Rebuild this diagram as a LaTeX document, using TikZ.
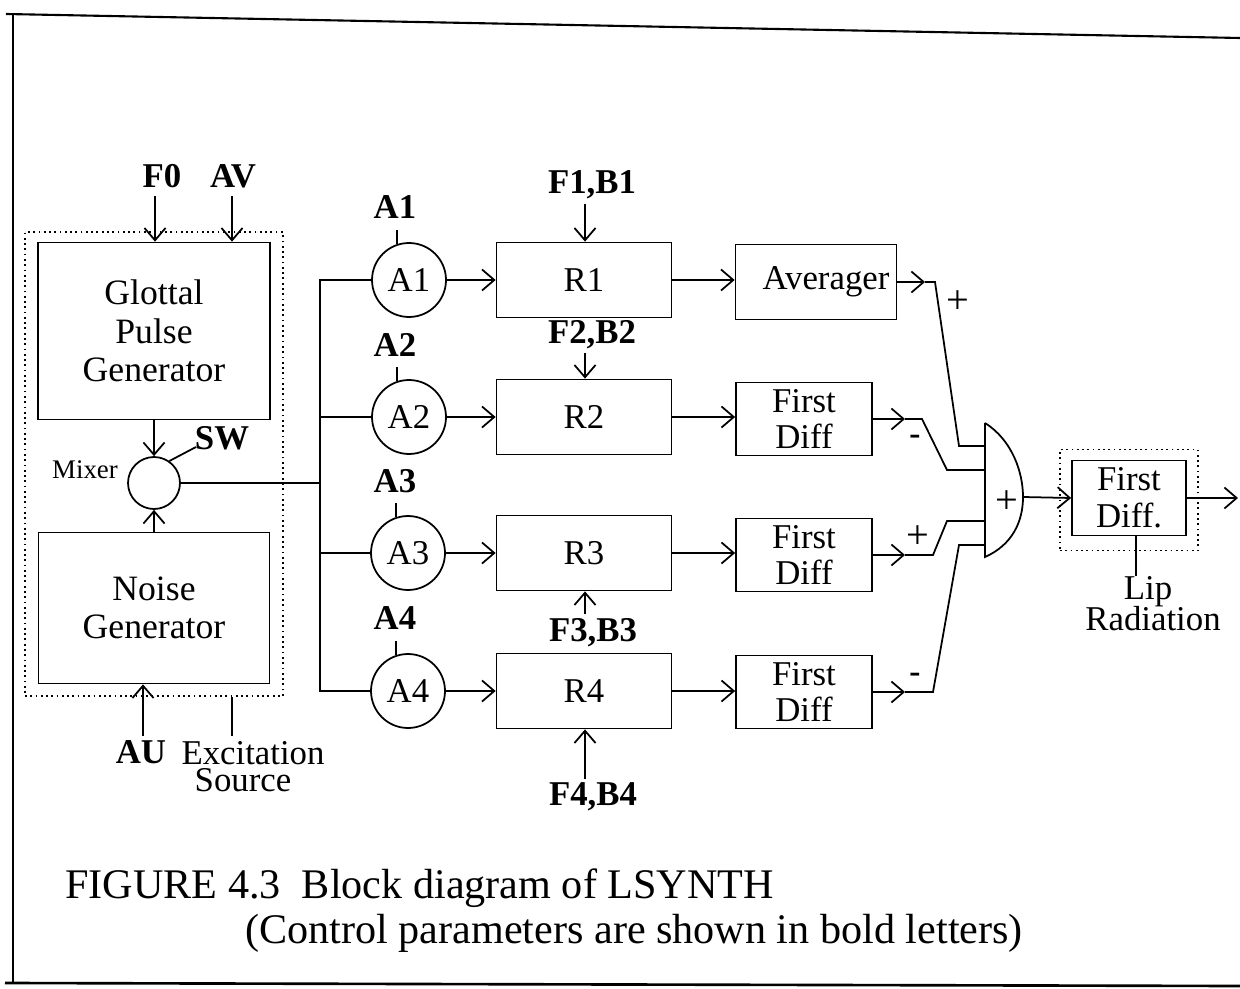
\documentclass[tikz,border=0pt]{standalone}
\usepackage{fontspec}
\setmainfont{Liberation Serif}
\usetikzlibrary{arrows.meta,calc}
\begin{document}
\begin{tikzpicture}[x=0.02cm,y=-0.02cm,
  every node/.style={font=\fontsize{19.8}{21}\selectfont, inner sep=0pt},
  blk/.style={draw, line width=1pt, rectangle, align=center},
  circ/.style={draw, line width=1pt, circle, minimum size=1.48cm},
  lbl/.style={font=\fontsize{19.8}{21}\selectfont\bfseries},
  sgn/.style={font=\fontsize{23}{23}\selectfont},
  msgn/.style={font=\fontsize{19}{19}\selectfont\bfseries},
  ln/.style={line width=1pt},
  arr/.style={line width=1pt, -{Straight Barb[length=7pt,width=12pt,line width=1pt]}},
  dotbox/.style={draw, dotted, line width=1pt},
  capt/.style={font=\fontsize{24}{26}\selectfont, anchor=base west}
]
\useasboundingbox (0,0) rectangle (1240,989);
% frame
\draw[line width=1.2pt] (6,14) -- (1240,38);
\draw[line width=1pt] (13,14) -- (13,984);
\draw[line width=1.5pt] (5,983) -- (1240,986);

% excitation source
\node[dotbox, minimum width=5.16cm, minimum height=9.28cm] (exc) at (154,464) {};
\node[blk, minimum width=4.64cm, minimum height=3.54cm, font=\fontsize{20.3}{21.8}\selectfont] (glot) at (154,331) {Glottal\\Pulse\\Generator};
\node[blk, minimum width=4.62cm, minimum height=3.02cm, font=\fontsize{20.3}{21.8}\selectfont] (noise) at (154,608) {Noise\\Generator};
\node[draw, circle, line width=1pt, minimum size=1.04cm] (mix) at (154,483) {};
\node[font=\fontsize{15.3}{16}\selectfont] (mixl) at (85,470) {Mixer};
\node[lbl] (sw) at (222,438) {SW};
\node[lbl] (f0) at (162,176) {F0};
\node[lbl] (av) at (233,176) {AV};
\node[lbl] (au) at (141,752) {AU};
\node (exl1) at (253,753) {Excitation};
\node (exl2) at (243,780) {Source};

\coordinate (f0s) at (155,196);
\coordinate (avs) at (232,196);
\draw[arr] (f0s) -- (f0s |- glot.north);
\draw[arr] (avs) -- (avs |- glot.north);
\draw[arr] (glot.south) -- (mix.north);
\draw[arr] (noise.north) -- (mix.south);
\coordinate (swe) at (196,447);
\draw[ln] (mix.55) -- (swe);
\coordinate (aus) at (143,736);
\draw[arr] (aus) -- (aus |- noise.south);
\coordinate (exs) at (232,736);
\draw[ln] (exs) -- (exs |- exc.south);

% amplitude circles
\node[circ] (a1) at (409,280) {A1};
\node[circ] (a2) at (409,417) {A2};
\node[circ] (a3) at (408,553) {A3};
\node[circ] (a4) at (408,691) {A4};
\node[lbl] (a1l) at (395,207) {A1};
\node[lbl] (a2l) at (395,345) {A2};
\node[lbl] (a3l) at (395,481) {A3};
\node[lbl] (a4l) at (395,618) {A4};
\foreach \n in {a1,a2,a3,a4}{\draw[ln] (\n.108) -- ++(0,-14);}

% bus
\coordinate (b1) at (320,280);
\coordinate (b2) at (320,417);
\coordinate (bm) at (320,483);
\coordinate (b3) at (320,553);
\coordinate (b4) at (320,691);
\draw[ln] (mix.east) -- (bm);
\draw[ln] (a1.west) -- (b1) -- (b4) -- (a4.west);
\draw[ln] (b2) -- (a2.west);
\draw[ln] (b3) -- (a3.west);

% resonators
\node[blk, minimum width=3.5cm, minimum height=1.5cm] (r1) at (584,280) {R1};
\node[blk, minimum width=3.5cm, minimum height=1.5cm] (r2) at (584,417) {R2};
\node[blk, minimum width=3.5cm, minimum height=1.5cm] (r3) at (584,553) {R3};
\node[blk, minimum width=3.5cm, minimum height=1.5cm] (r4) at (584,691) {R4};
\draw[arr] (a1) -- (r1);
\draw[arr] (a2) -- (r2);
\draw[arr] (a3) -- (r3);
\draw[arr] (a4) -- (r4);

\node[lbl] (fb1) at (592,185) {F1,B1};
\node[lbl] (fb2) at (592,335) {F2,B2};
\node[lbl] (fb3) at (593,633) {F3,B3};
\node[lbl] (fb4) at (593,797) {F4,B4};
\coordinate (fb1s) at (585,204);
\coordinate (fb2s) at (585,353);
\coordinate (fb3s) at (585,614);
\coordinate (fb4s) at (585,779);
\draw[arr] (fb1s) -- (fb1s |- r1.north);
\draw[arr] (fb2s) -- (fb2s |- r2.north);
\draw[arr] (fb3s) -- (fb3s |- r3.south);
\draw[arr] (fb4s) -- (fb4s |- r4.south);

% averager / first diff
\node[blk, minimum width=3.22cm, minimum height=1.5cm] (avg) at (816,282) {\hspace{0.4cm}Averager};
\node[blk, minimum width=2.72cm, minimum height=1.46cm] (fd2) at (804,419) {First\\Diff};
\node[blk, minimum width=2.72cm, minimum height=1.46cm] (fd3) at (804,555) {First\\Diff};
\node[blk, minimum width=2.72cm, minimum height=1.46cm] (fd4) at (804,692) {First\\Diff};
\draw[arr] (r1.east) -- (r1.east -| avg.west);
\draw[arr] (r2.east) -- (r2.east -| fd2.west);
\draw[arr] (r3.east) -- (r3.east -| fd3.west);
\draw[arr] (r4.east) -- (r4.east -| fd4.west);

% summing junction
\coordinate (st) at (985,423);
\coordinate (sb) at (985,557);
\coordinate (sumtip) at (1023,497);
\draw[ln] (st) -- (sb) .. controls (1012,545) and (1023,522) .. (sumtip) .. controls (1023,472) and (1012,440) .. (st);
\node[sgn] (sp) at (1007,502) {+};

\coordinate (o1a) at (925,282); \coordinate (o1b) at (935,282); \coordinate (o1c) at (959,446); \coordinate (i1) at (985,446);
\coordinate (o2a) at (905,419); \coordinate (o2b) at (922,419); \coordinate (o2c) at (947,470); \coordinate (i2) at (985,470);
\coordinate (o3a) at (905,555); \coordinate (o3b) at (933,555); \coordinate (o3c) at (947,521); \coordinate (i3) at (985,521);
\coordinate (o4a) at (905,692); \coordinate (o4b) at (933,692); \coordinate (o4c) at (959,545); \coordinate (i4) at (985,545);
\draw[arr] (avg.east) -- (o1a);
\draw[arr] (fd2.east) -- (o2a);
\draw[arr] (fd3.east) -- (o3a);
\draw[arr] (fd4.east) -- (o4a);
\draw[ln] (o1a) -- (o1b) -- (o1c) -- (i1);
\draw[ln] (o2a) -- (o2b) -- (o2c) -- (i2);
\draw[ln] (o3a) -- (o3b) -- (o3c) -- (i3);
\draw[ln] (o4a) -- (o4b) -- (o4c) -- (i4);
\node[sgn] (s1) at (958,302) {+};
\node[msgn] (s2) at (915,440) {-};
\node[sgn] (s3) at (918,537) {+};
\node[msgn] (s4) at (915,678) {-};

% lip radiation
\node[dotbox, minimum width=2.76cm, minimum height=2.02cm] (lipo) at (1129,500) {};
\node[blk, minimum width=2.28cm, minimum height=1.5cm] (lip) at (1129,498) {First\\Diff.};
\draw[arr] (sumtip) -- (lip.west);
\coordinate (out) at (1238,498);
\draw[arr] (lip.east) -- (out);
\coordinate (lipl) at (1136,576);
\draw[ln] (lipl |- lip.south) -- (lipl);
\node (lipt) at (1148,592) {Lip};
\node (radt) at (1153,619) {Radiation};

% caption
\node[capt] (cap1) at (65,898) {FIGURE 4.3\ \ Block diagram of LSYNTH};
\node[capt] (cap2) at (245,943) {(Control parameters are shown in bold letters)};
\end{tikzpicture}
\end{document}
